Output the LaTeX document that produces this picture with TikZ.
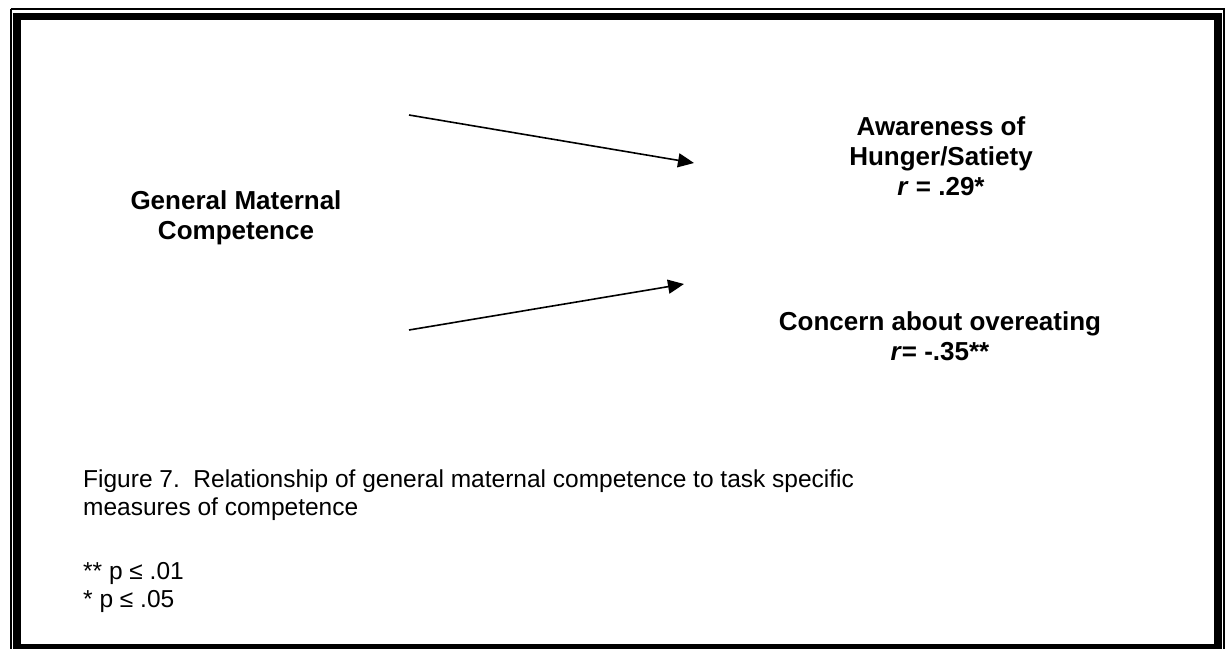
\documentclass[tikz,border=0pt]{standalone}
\usepackage{fontspec}
\setmainfont{Liberation Sans}
\usetikzlibrary{arrows.meta}
\begin{document}
\begin{tikzpicture}[x=1pt,y=-1pt,
  lbl/.style={font=\fontsize{26}{30}\selectfont\bfseries, align=center, inner sep=0pt, anchor=north},
  txt/.style={font=\fontsize{24.5}{28}\selectfont, align=left, inner sep=0pt},
  conn/.style={line width=1.6pt, -{Triangle[length=16pt,width=14pt]}}]
\useasboundingbox (0,0) rectangle (1225,648);
\fill[white] (0,0) rectangle (1225,648);
% frame
\draw[line width=2pt] (10.5,9) -- (1224,9) -- (1224,660) (10.5,9) -- (10.5,660);
\draw[line width=7.5pt] (17,16.5) -- (1218,16.5) -- (1218,648) -- (17,648) -- cycle;
% nodes
\node[lbl] (gmc) at (236,190) {General Maternal\\Competence};
\node[lbl] (aw) at (941,116) {Awareness of\\Hunger/Satiety\\\textit{r} = .29*};
\node[lbl] (co) at (940,311) {Concern about overeating\\\textit{r}= -.35**};
\coordinate (a1s) at (409,115);
\coordinate (a1e) at (694,163);
\coordinate (a2s) at (409,330);
\coordinate (a2e) at (684,284);
\draw[conn] (a1s) -- (a1e);
\draw[conn] (a2s) -- (a2e);
% caption
\node[txt, anchor=north west] (cap) at (83,469.5) {Figure 7.\ \ Relationship of general maternal competence to task specific\\measures of competence};
\node[txt, anchor=base west] (p1) at (83,579) {** p ≤ .01};
\node[txt, anchor=base west] (p2) at (83,607) {* p ≤ .05};
\end{tikzpicture}
\end{document}
